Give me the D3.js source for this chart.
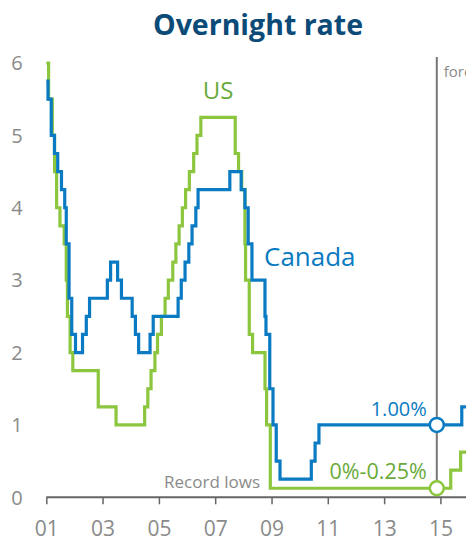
<html>
<head>
<style>
  body { margin: 0; background: #fff; font-family: "Open Sans", sans-serif; }
  svg { display: block; }
</style>
<script src="https://cdn.jsdelivr.net/npm/d3@7"></script>
</head>
<body>
<svg id="main"></svg>
<script>
// US fed funds target (midpoint 0.125 for the 0-0.25% range), forecast after late 2014
const usDates = ["2001-01-01","2001-01-31","2001-03-20","2001-04-18","2001-05-15","2001-06-27","2001-08-21",
  "2001-09-17","2001-10-02","2001-11-06","2001-12-11","2002-11-06","2003-06-25","2004-06-30","2004-08-10",
  "2004-09-21","2004-11-10","2004-12-14","2005-02-02","2005-03-22","2005-05-03","2005-06-30","2005-08-09",
  "2005-09-20","2005-11-01","2005-12-13","2006-01-31","2006-03-28","2006-05-10","2006-06-29","2007-09-18",
  "2007-10-31","2007-12-11","2008-01-22","2008-01-30","2008-03-18","2008-04-30","2008-10-08","2008-10-29",
  "2008-12-16","2015-05-15","2015-09-20","2016-12-31"]
const usRates = [6.00,5.50,5.00,4.50,4.00,3.75,3.50,3.00,2.50,2.00,1.75,1.25,1.00,1.25,1.50,1.75,2.00,2.25,
  2.50,2.75,3.00,3.25,3.50,3.75,4.00,4.25,4.50,4.75,5.00,5.25,4.75,4.50,4.25,3.50,3.00,2.25,2.00,1.50,1.00,
  0.125,0.375,0.625,0.625]

// Bank of Canada overnight target
const caDates = ["2001-01-01","2001-01-23","2001-03-06","2001-04-17","2001-05-29","2001-07-17","2001-08-28",
  "2001-09-17","2001-10-23","2001-11-27","2002-01-15","2002-04-16","2002-06-04","2002-07-16","2003-03-04",
  "2003-04-15","2003-07-15","2003-09-03","2004-01-20","2004-03-02","2004-04-13","2004-09-08","2004-10-19",
  "2005-09-07","2005-10-18","2005-12-06","2006-01-24","2006-03-07","2006-04-25","2006-05-24","2007-07-10",
  "2007-12-04","2008-01-22","2008-03-04","2008-04-22","2008-10-08","2008-10-21","2008-12-09","2009-01-20",
  "2009-03-03","2009-04-21","2010-06-01","2010-07-20","2010-09-08","2015-10-05","2016-12-31"]
const caRates = [5.75,5.50,5.00,4.75,4.50,4.25,4.00,3.50,2.75,2.25,2.00,2.25,2.50,2.75,3.00,3.25,3.00,2.75,
  2.50,2.25,2.00,2.25,2.50,2.75,3.00,3.25,3.50,3.75,4.00,4.25,4.50,4.25,4.00,3.50,3.00,2.50,2.25,1.50,1.00,
  0.50,0.25,0.50,0.75,1.00,1.25,1.25]

const yTicks = [0,1,2,3,4,5,6]
const xTickYears = [2001,2003,2005,2007,2009,2011,2013,2015]
const forecastDate = "2014-11-15"
const endLabels = [{series: "ca", value: 1.00, text: "1.00%"}, {series: "us", value: 0.125, text: "0%-0.25%"}]

const width = 466, height = 541
const green = "#8cc63f", blue = "#0a7bc2", gray = "#8a8a8a"

const parse = d3.timeParse("%Y-%m-%d")
const us = usDates.map((d, i) => ({date: parse(d), value: usRates[i]}))
const ca = caDates.map((d, i) => ({date: parse(d), value: caRates[i]}))

const x = d3.scaleTime()
  .domain([new Date(2001,0,1), new Date(2016,0,1)])
  .range([46.3, 46.3 + 15*28.15])
const y = d3.scaleLinear().domain([0,6]).range([497.3, 63])

const svg = d3.select("#main").attr("width", width).attr("height", height)

svg.append("text")
  .attr("x", 258).attr("y", 35)
  .attr("text-anchor", "middle")
  .attr("font-size", 28.5).attr("font-weight", "bold")
  .attr("fill", "#0c4a78")
  .text("Overnight rate")

// y labels, no axis line
svg.append("g")
  .selectAll("text")
  .data(yTicks)
  .join("text")
  .attr("x", 17).attr("y", d => y(d))
  .attr("dy", "0.36em")
  .attr("text-anchor", "middle")
  .attr("font-size", 20).attr("fill", gray)
  .text(d => d)

// x axis
const xAxis = d3.axisBottom(x)
  .tickValues(xTickYears.map(yr => new Date(yr,0,1)))
  .tickFormat(d3.timeFormat("%y"))
  .tickSize(7).tickPadding(17)
svg.append("g")
  .attr("transform", `translate(0,${y(0)})`)
  .call(xAxis)
  .call(g => g.select(".domain").remove())
  .call(g => g.selectAll("line").attr("stroke", "#666").attr("stroke-width", 1.5))
  .call(g => g.selectAll("text").attr("font-size", 21).attr("fill", gray).attr("font-family", "Open Sans"))
svg.append("line")
  .attr("x1", 46.3).attr("x2", width)
  .attr("y1", y(0)).attr("y2", y(0))
  .attr("stroke", "#666").attr("stroke-width", 2)

// forecast divider
const fx = x(parse(forecastDate))
svg.append("line")
  .attr("x1", fx).attr("x2", fx)
  .attr("y1", 57).attr("y2", y(0))
  .attr("stroke", "#777").attr("stroke-width", 2)
svg.append("text")
  .attr("x", fx + 7).attr("y", 77)
  .attr("font-size", 15).attr("fill", gray)
  .text("forecast")

const line = d3.line()
  .x(d => x(d.date)).y(d => y(d.value))
  .curve(d3.curveStepAfter)

svg.append("path").datum(us)
  .attr("fill", "none").attr("stroke", green).attr("stroke-width", 3.2)
  .attr("d", line)
svg.append("path").datum(ca)
  .attr("fill", "none").attr("stroke", blue).attr("stroke-width", 3.2)
  .attr("d", line)

// series labels
svg.append("text").attr("x", 218).attr("y", 99)
  .attr("text-anchor", "middle").attr("font-size", 24).attr("fill", "#6aaa3a")
  .text("US")
svg.append("text").attr("x", 264).attr("y", 266)
  .attr("font-size", 26).attr("fill", blue)
  .text("Canada")
svg.append("text").attr("x", 260).attr("y", 488)
  .attr("text-anchor", "end").attr("font-size", 17).attr("fill", gray)
  .text("Record lows")

// end values at forecast start
svg.append("g")
  .selectAll("text")
  .data(endLabels)
  .join("text")
  .attr("x", fx - 10)
  .attr("y", d => d.series === "ca" ? y(d.value) - 9 : y(d.value) - 9)
  .attr("text-anchor", "end")
  .attr("font-size", d => d.series === "ca" ? 20 : 21.5)
  .attr("fill", d => d.series === "ca" ? blue : "#6aaa3a")
  .text(d => d.text)

svg.append("g")
  .selectAll("circle")
  .data(endLabels)
  .join("circle")
  .attr("cx", fx).attr("cy", d => y(d.value))
  .attr("r", 7)
  .attr("fill", "#fff")
  .attr("stroke", d => d.series === "ca" ? blue : green)
  .attr("stroke-width", 2.5)
</script>
</body>
</html>
